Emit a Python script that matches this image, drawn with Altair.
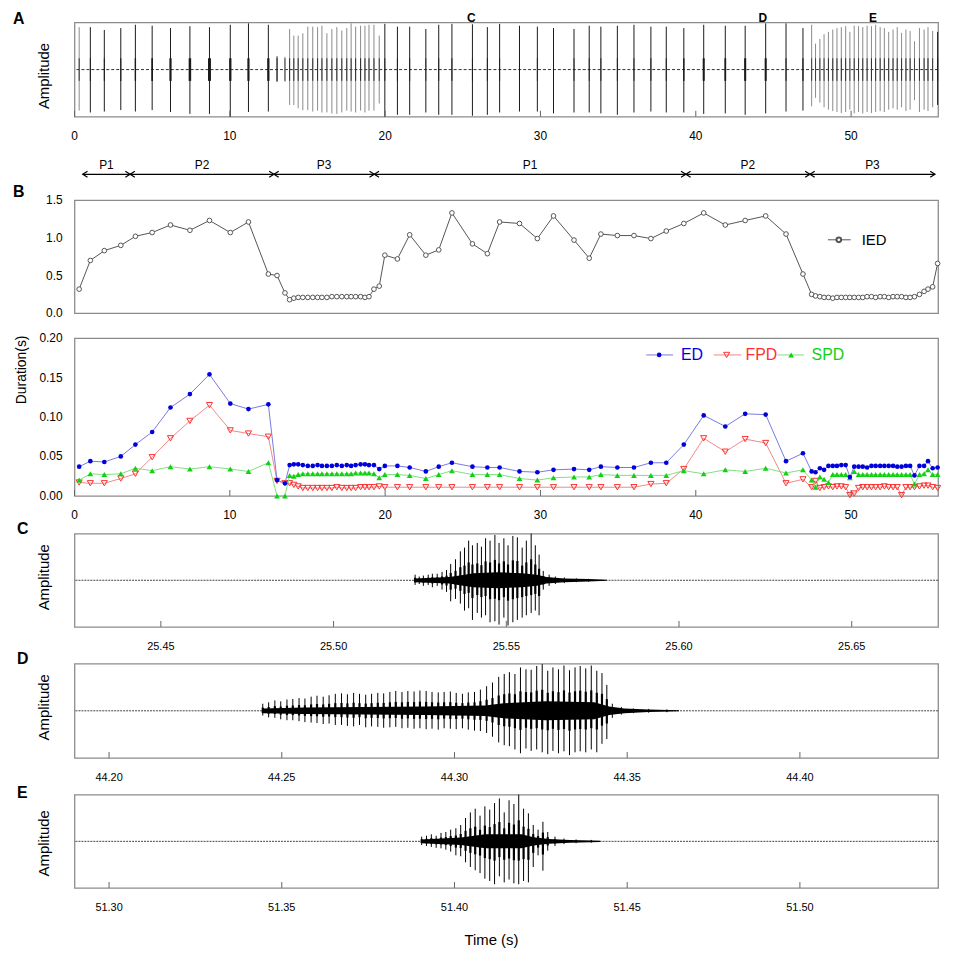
import altair as alt
import pandas as pd

FONT = "Liberation Sans"
W = 870

# ---------------- call-level data (panels A and B) ----------------
T = [0.30, 1.02, 1.92, 2.98, 3.92,
     5.00, 6.18, 7.43, 8.69, 10.03, 11.20, 12.48,
     13.04, 13.55,
     13.85, 14.12, 14.40, 14.70, 15.02, 15.34, 15.65, 15.93, 16.25, 16.57,
     16.89, 17.21, 17.53, 17.81, 18.10, 18.42, 18.70, 18.96, 19.28, 19.62,
     19.98, 20.79, 21.58, 22.62, 23.45, 24.30, 25.62, 26.58, 27.37, 28.65,
     29.80, 30.84, 32.16, 33.14, 33.89, 34.95, 36.02, 37.11, 38.10,
     39.23, 40.51, 41.90, 43.18, 44.50, 45.81, 46.90,
     47.46, 47.71, 47.99, 48.26, 48.54, 48.82, 49.09, 49.37, 49.65, 49.92,
     50.20, 50.48, 50.75, 51.03, 51.31, 51.58, 51.87, 52.14, 52.42, 52.70,
     52.97, 53.25, 53.53, 53.80, 54.08, 54.40, 54.70, 54.95, 55.25, 55.57]

IED = [0.32, 0.70, 0.83, 0.90, 1.02,
       1.07, 1.17, 1.10, 1.23, 1.07, 1.21, 0.52,
       0.50, 0.27,
       0.18, 0.20, 0.21, 0.21, 0.21, 0.21, 0.21, 0.21, 0.21, 0.22,
       0.22, 0.22, 0.22, 0.22, 0.22, 0.22, 0.21, 0.22, 0.32, 0.36,
       0.77, 0.72, 1.04, 0.77, 0.84, 1.33, 0.92, 0.79, 1.21, 1.19,
       0.99, 1.29, 0.97, 0.73, 1.05, 1.03, 1.03, 0.99, 1.09,
       1.19, 1.33, 1.17, 1.23, 1.29, 1.05, 0.52,
       0.25, 0.23, 0.22, 0.21, 0.21, 0.20, 0.21, 0.21, 0.21, 0.21,
       0.21, 0.21, 0.21, 0.22, 0.22, 0.21, 0.22, 0.22, 0.21, 0.22,
       0.22, 0.22, 0.21, 0.21, 0.22, 0.25, 0.29, 0.32, 0.35, 0.66]

ED = [0.037, 0.044, 0.043, 0.050, 0.065,
      0.081, 0.112, 0.129, 0.154, 0.117, 0.110, 0.116,
      0.020, 0.016,
      0.039, 0.040, 0.040, 0.039, 0.038, 0.038, 0.039, 0.038, 0.038, 0.038,
      0.039, 0.038, 0.039, 0.038, 0.039, 0.040, 0.040, 0.039, 0.039, 0.034,
      0.038, 0.038, 0.036, 0.031, 0.037, 0.042, 0.037, 0.036, 0.036, 0.031,
      0.030, 0.033, 0.034, 0.033, 0.037, 0.036, 0.036, 0.042, 0.042,
      0.065, 0.102, 0.088, 0.104, 0.103, 0.044, 0.054,
      0.031, 0.030, 0.035, 0.033, 0.038, 0.038, 0.038, 0.039, 0.039, 0.024,
      0.037, 0.037, 0.037, 0.036, 0.038, 0.038, 0.038, 0.038, 0.038, 0.038,
      0.037, 0.037, 0.038, 0.038, 0.026, 0.038, 0.038, 0.044, 0.035, 0.036]

FPD = [0.017, 0.016, 0.016, 0.022, 0.028,
       0.049, 0.073, 0.095, 0.115, 0.083, 0.079, 0.075,
       0.019, 0.016,
       0.016, 0.014, 0.012, 0.010, 0.010, 0.010, 0.010, 0.010, 0.010, 0.010,
       0.011, 0.010, 0.010, 0.010, 0.010, 0.011, 0.011, 0.011, 0.011, 0.012,
       0.011, 0.011, 0.011, 0.011, 0.011, 0.011, 0.011, 0.011, 0.011, 0.011,
       0.011, 0.011, 0.011, 0.011, 0.011, 0.011, 0.011, 0.015, 0.016,
       0.034, 0.073, 0.056, 0.072, 0.067, 0.016, 0.021,
       0.011, 0.019, 0.010, 0.011, 0.012, 0.011, 0.012, 0.012, 0.011, 0.001,
       0.003, 0.010, 0.011, 0.011, 0.011, 0.011, 0.011, 0.012, 0.011, 0.011,
       0.011, 0.001, 0.011, 0.011, 0.011, 0.012, 0.013, 0.013, 0.011, 0.010]

SPD = [0.020, 0.028, 0.027, 0.028, 0.035,
       0.032, 0.037, 0.034, 0.037, 0.034, 0.031, 0.042,
       0.000, 0.000,
       0.026, 0.025, 0.027, 0.028, 0.028, 0.028, 0.028, 0.028, 0.028, 0.028,
       0.028, 0.028, 0.028, 0.028, 0.029, 0.029, 0.029, 0.029, 0.028, 0.023,
       0.027, 0.027, 0.026, 0.022, 0.027, 0.032, 0.027, 0.027, 0.027, 0.022,
       0.020, 0.023, 0.024, 0.024, 0.027, 0.026, 0.026, 0.026, 0.026,
       0.032, 0.028, 0.033, 0.031, 0.035, 0.029, 0.033,
       0.020, 0.011, 0.024, 0.021, 0.017, 0.027, 0.027, 0.027, 0.027, 0.023,
       0.031, 0.027, 0.027, 0.027, 0.027, 0.027, 0.027, 0.027, 0.027, 0.027,
       0.027, 0.027, 0.027, 0.027, 0.015, 0.027, 0.028, 0.033, 0.027, 0.027]

AMP_UP = [0.90, 0.90, 0.84, 0.88, 0.95,
          0.93, 0.88, 0.92, 0.90, 0.95, 0.98, 0.95,
          0.28, 0.27,
          0.86, 0.72, 0.72, 0.77, 0.91, 0.91, 0.90, 0.93, 0.77, 0.86,
          0.90, 0.83, 0.88, 0.98, 0.91, 0.93, 0.93, 0.95, 0.95, 0.72,
          0.97, 0.91, 0.91, 0.86, 0.95, 0.97, 0.96, 0.90, 0.97, 0.93,
          0.91, 0.88, 0.86, 0.93, 0.91, 0.93, 0.95, 0.91, 0.91,
          0.88, 0.95, 0.93, 0.93, 0.98, 0.98, 0.88,
          0.95, 0.55, 0.65, 0.75, 0.80, 0.85, 0.88, 0.90, 0.92, 0.80,
          0.93, 0.92, 0.90, 0.93, 0.92, 0.95, 0.90, 0.88, 0.80, 0.85,
          0.90, 0.78, 0.85, 0.82, 0.60, 0.88, 0.85, 0.90, 0.82, 0.80]

AMP_DN = [0.87, 0.91, 0.89, 0.86, 0.89,
          0.86, 0.90, 0.94, 0.94, 1.00, 0.90, 0.89,
          0.26, 0.26,
          0.75, 0.75, 0.82, 0.86, 0.86, 0.89, 0.87, 0.91, 0.91, 0.93,
          0.94, 0.91, 0.87, 0.89, 0.91, 0.87, 0.91, 0.87, 0.87, 0.72,
          1.00, 0.96, 0.96, 0.91, 0.96, 0.96, 0.98, 0.96, 0.91, 0.89,
          0.89, 0.93, 0.91, 0.91, 0.93, 0.96, 0.91, 0.89, 0.91,
          0.91, 0.94, 0.93, 0.96, 0.93, 0.89, 0.87,
          0.78, 0.60, 0.70, 0.80, 0.85, 0.88, 0.90, 0.92, 0.90, 0.85,
          0.93, 0.90, 0.93, 0.90, 0.92, 0.90, 0.88, 0.90, 0.85, 0.82,
          0.85, 0.80, 0.88, 0.85, 0.65, 0.90, 0.85, 0.88, 0.80, 0.75]

X_MAIN = [0, 55.6]
MAIN_TICKS = [0, 10, 20, 30, 40, 50]
IED_TICKS = [0.0, 0.5, 1.0, 1.5]
DUR_TICKS = [0.0, 0.05, 0.10, 0.15, 0.20]

PH_START = [0.53, 3.58, 12.84, 19.30, 39.36, 47.35]
PH_END = [3.58, 12.84, 19.30, 39.36, 47.35, 55.40]
PH_NAME = ["P1", "P2", "P3", "P1", "P2", "P3"]

# ---------------- zoomed oscillograms ----------------
C_DOMAIN = [25.425, 25.675]
C_TICKS = [25.45, 25.50, 25.55, 25.60, 25.65]
C_T = [25.5236, 25.5248, 25.5260, 25.5274, 25.5286, 25.5300, 25.5314, 25.5327,
       25.5339, 25.5353, 25.5367, 25.5379, 25.5391, 25.5402, 25.5416, 25.5428,
       25.5440, 25.5453, 25.5467, 25.5479, 25.5493, 25.5505, 25.5519, 25.5532,
       25.5546, 25.5558, 25.5572, 25.5584, 25.5595, 25.5607, 25.5624, 25.5642,
       25.5668, 25.5703, 25.5738]
C_UP = [0.12, 0.08, 0.10, 0.12, 0.14, 0.14, 0.18, 0.22, 0.35, 0.45, 0.62, 0.70,
        0.85, 0.75, 0.80, 0.72, 0.90, 0.85, 0.97, 0.80, 0.90, 0.75, 0.95, 0.92,
        0.70, 0.85, 1.00, 0.75, 0.55, 0.20, 0.12, 0.08, 0.06, 0.04, 0.03]
C_DN = [0.10, 0.08, 0.12, 0.10, 0.15, 0.12, 0.20, 0.25, 0.45, 0.40, 0.50, 0.65,
        0.60, 0.85, 0.70, 0.80, 0.75, 0.90, 0.88, 0.95, 0.80, 0.97, 0.90, 0.85,
        0.80, 0.75, 0.70, 0.65, 0.75, 0.20, 0.12, 0.08, 0.06, 0.04, 0.03]
C_ENV_T = [25.5236, 25.5335, 25.5370, 25.5405, 25.5475, 25.5546, 25.5589,
           25.5616, 25.5668, 25.5738, 25.5791]
C_ENV = [0.04, 0.07, 0.11, 0.15, 0.17, 0.15, 0.12, 0.07, 0.04, 0.025, 0.012]

D_DOMAIN = [44.19, 44.44]
D_TICKS = [44.20, 44.25, 44.30, 44.35, 44.40]
D_T = [44.2445, 44.2462, 44.2480, 44.2497, 44.2515, 44.2532, 44.2550, 44.2567,
       44.2585, 44.2602, 44.2620, 44.2637, 44.2655, 44.2673, 44.2690, 44.2708,
       44.2725, 44.2743, 44.2760, 44.2778, 44.2795, 44.2813, 44.2830, 44.2848,
       44.2865, 44.2883, 44.2900, 44.2918, 44.2935, 44.2953, 44.2970, 44.2988,
       44.3005, 44.3023, 44.3040, 44.3058, 44.3075, 44.3093, 44.3110,
       44.3128, 44.3144, 44.3159, 44.3175, 44.3191, 44.3207, 44.3222, 44.3238,
       44.3254, 44.3270, 44.3285, 44.3301, 44.3317, 44.3333, 44.3349, 44.3364,
       44.3380, 44.3396, 44.3412, 44.3427, 44.3441,
       44.3457, 44.3483, 44.3518, 44.3562, 44.3615]
D_UP = [0.15, 0.18, 0.22, 0.20, 0.24, 0.25, 0.27, 0.26, 0.30, 0.32, 0.30, 0.33,
        0.36, 0.37, 0.35, 0.38, 0.36, 0.34, 0.36, 0.38, 0.37, 0.40, 0.42, 0.40,
        0.42, 0.41, 0.43, 0.42, 0.40, 0.39, 0.40, 0.41, 0.38, 0.36, 0.39, 0.40,
        0.45, 0.52, 0.60,
        0.72, 0.78, 0.82, 0.78, 0.92, 0.88, 0.87, 0.95, 0.99, 0.85, 0.92, 0.88,
        0.96, 0.86, 0.92, 0.95, 0.90, 0.96, 0.85, 0.80, 0.55,
        0.15, 0.08, 0.05, 0.04, 0.03]
D_DN = [0.10, 0.14, 0.15, 0.18, 0.20, 0.20, 0.22, 0.24, 0.25, 0.26, 0.28, 0.27,
        0.30, 0.30, 0.32, 0.33, 0.30, 0.35, 0.33, 0.34, 0.36, 0.35, 0.34, 0.37,
        0.36, 0.38, 0.37, 0.39, 0.38, 0.40, 0.37, 0.38, 0.39, 0.37, 0.40, 0.42,
        0.43, 0.47, 0.55,
        0.67, 0.73, 0.75, 0.82, 0.90, 0.80, 0.85, 0.82, 0.88, 0.92, 0.85, 0.90,
        0.86, 0.94, 0.88, 0.86, 0.88, 0.82, 0.88, 0.70, 0.60,
        0.15, 0.08, 0.05, 0.04, 0.03]
D_ENV_T = [44.2445, 44.2564, 44.2739, 44.2914, 44.3089, 44.3142, 44.3264,
           44.3405, 44.3448, 44.3492, 44.3562, 44.3650]
D_ENV = [0.05, 0.07, 0.08, 0.09, 0.11, 0.16, 0.20, 0.18, 0.09, 0.05, 0.025, 0.012]

E_DOMAIN = [51.29, 51.54]
E_TICKS = [51.30, 51.35, 51.40, 51.45, 51.50]
E_T = [51.3905, 51.3919, 51.3933, 51.3947, 51.3961, 51.3975, 51.3989, 51.4004,
       51.4018, 51.4032, 51.4046, 51.4060, 51.4074, 51.4088, 51.4102, 51.4116,
       51.4130, 51.4144, 51.4158, 51.4172, 51.4186, 51.4200, 51.4214, 51.4228,
       51.4242, 51.4256, 51.4270, 51.4291, 51.4317, 51.4352, 51.4396]
E_UP = [0.10, 0.12, 0.15, 0.12, 0.18, 0.20, 0.25, 0.28, 0.35, 0.50, 0.62, 0.70,
        0.55, 0.75, 0.68, 0.82, 0.92, 0.62, 0.88, 0.80, 1.00, 0.70, 0.60, 0.35,
        0.25, 0.42, 0.20, 0.10, 0.06, 0.04, 0.03]
E_DN = [0.08, 0.10, 0.12, 0.14, 0.15, 0.18, 0.22, 0.30, 0.32, 0.45, 0.55, 0.62,
        0.68, 0.80, 0.85, 0.92, 0.75, 0.88, 0.82, 0.90, 0.92, 0.85, 0.88, 0.55,
        0.30, 0.63, 0.20, 0.10, 0.06, 0.04, 0.03]
E_ENV_T = [51.3905, 51.4019, 51.4089, 51.4194, 51.4229, 51.4273, 51.4335, 51.4422]
E_ENV = [0.04, 0.08, 0.15, 0.15, 0.09, 0.05, 0.03, 0.012]

# ---------------- helpers ----------------
NOFRAME = alt.ViewBackground(strokeOpacity=0)
xs_main = alt.Scale(domain=X_MAIN, nice=False, zero=False)
ys_wave = alt.Scale(domain=[-1, 1], nice=False, zero=False)


def one(s):
    return pd.DataFrame({"s": [s]})


def letter(s, x, y):
    return alt.Chart(one(s)).mark_text(
        font=FONT, fontSize=16, fontWeight="bold", align="left", baseline="middle",
        color="#000").encode(x=alt.value(x), y=alt.value(y), text="s:N")


def vtitle(s, x, y, size=15):
    return alt.Chart(one(s)).mark_text(
        font=FONT, fontSize=size, angle=270, align="center", baseline="middle",
        color="#000").encode(x=alt.value(x), y=alt.value(y), text="s:N")


def x_labels(values, scale, h, fmt, size=12, dy=19.5):
    return alt.Chart(pd.DataFrame({"v": values})).mark_text(
        font=FONT, fontSize=size, baseline="middle", align="center", color="#000").encode(
        x=alt.X("v:Q", scale=scale, axis=None), y=alt.value(h + dy),
        text=alt.Text("v:Q", format=fmt))


def y_labels(values, scale, fmt, size=12):
    return alt.Chart(pd.DataFrame({"v": values})).mark_text(
        font=FONT, fontSize=size, baseline="middle", align="right", color="#000").encode(
        x=alt.value(-12), y=alt.Y("v:Q", scale=scale, axis=None),
        text=alt.Text("v:Q", format=fmt))


def inward_ticks(values, scale, h):
    return alt.Chart(pd.DataFrame({"v": values})).mark_rule(
        color="#666", strokeWidth=1).encode(
        x=alt.X("v:Q", scale=scale, axis=None), y=alt.value(h), y2=alt.value(h - 6))


def blank(h):
    return alt.Chart(one("")).mark_point(opacity=0, size=1).encode(
        x=alt.value(0), y=alt.value(0)).properties(width=W, height=h, view=NOFRAME)


calls = pd.DataFrame({"t": T, "up": AMP_UP, "dn": [-a for a in AMP_DN],
                      "ied": IED, "ed": ED, "fpd": FPD, "spd": SPD})
call_color = alt.when(alt.datum.ied < 0.4).then(alt.value("#8a8a8a")).otherwise(alt.value("#1a1a1a"))

# ---------------- panel A ----------------
HA = 95
a_base = alt.Chart(one(0)).mark_rule(
    color="#333", strokeWidth=1, strokeDash=[3, 2]).encode(
    y=alt.datum(0, scale=ys_wave, axis=None))
a_calls = alt.Chart(calls).mark_rule(strokeWidth=1).encode(
    x=alt.X("t:Q", scale=xs_main, axis=None),
    y=alt.Y("dn:Q", scale=ys_wave, axis=None), y2="up:Q", color=call_color)
a_core = alt.Chart(calls).transform_calculate(lo="-0.24", hi="0.24").mark_rule(color="#1a1a1a").encode(
    x=alt.X("t:Q", scale=xs_main, axis=None),
    y=alt.Y("lo:Q", scale=ys_wave, axis=None), y2="hi:Q",
    strokeWidth=alt.StrokeWidth("ed:Q", scale=alt.Scale(domain=[0.03, 0.155], range=[0.7, 3.0], clamp=True), legend=None))
snip = pd.DataFrame({"lab": ["C", "D", "E"],
                     "mid": [sum(C_DOMAIN) / 2, sum(D_DOMAIN) / 2, sum(E_DOMAIN) / 2]})
a_snip = alt.Chart(snip).mark_text(font=FONT, fontSize=12, fontWeight="bold", baseline="middle").encode(
    x=alt.X("mid:Q", scale=xs_main, axis=None), y=alt.value(-4.5), text="lab:N")
panelA = alt.layer(a_base, a_calls, a_core, inward_ticks(MAIN_TICKS, xs_main, HA),
                   x_labels(MAIN_TICKS, xs_main, HA, "d"), vtitle("Amplitude", -31, 54),
                   a_snip, letter("A", -62, -3)).properties(width=W, height=HA)

# ---------------- phase arrows ----------------
ph = pd.DataFrame({"s": PH_START, "e": PH_END, "name": PH_NAME})
ph["m"] = (ph["s"] + ph["e"]) / 2
AY = 58
arr_line = alt.Chart(ph).mark_rule(color="#000", strokeWidth=1.2).encode(
    x=alt.X("s:Q", scale=xs_main, axis=None), x2="e:Q", y=alt.value(AY))
arr_l = alt.Chart(ph).mark_point(shape="M 1.6 -1 L 0 0 L 1.6 1", filled=False, color="#000",
                                 strokeWidth=1.2, size=36, opacity=1).encode(
    x=alt.X("s:Q", scale=xs_main, axis=None), y=alt.value(AY))
arr_r = alt.Chart(ph).mark_point(shape="M -1.6 -1 L 0 0 L -1.6 1", filled=False, color="#000",
                                 strokeWidth=1.2, size=36, opacity=1).encode(
    x=alt.X("e:Q", scale=xs_main, axis=None), y=alt.value(AY))
arr_t = alt.Chart(ph).mark_text(font=FONT, fontSize=12, baseline="middle", color="#000").encode(
    x=alt.X("m:Q", scale=xs_main, axis=None), y=alt.value(AY - 9), text="name:N")
arrows = alt.layer(arr_line, arr_l, arr_r, arr_t).properties(width=W, height=84, view=NOFRAME)

# ---------------- panel B (IED) ----------------
HB1 = 114
ys_ied = alt.Scale(domain=[0, 1.5], nice=False)
b1_line = alt.Chart(calls).mark_line(color="#555", strokeWidth=1).encode(
    x=alt.X("t:Q", scale=xs_main, axis=None), y=alt.Y("ied:Q", scale=ys_ied, axis=None))
b1_pts = alt.Chart(calls).mark_point(shape="circle", filled=True, fill="white", stroke="#555",
                                     strokeWidth=1, size=22, opacity=1).encode(
    x=alt.X("t:Q", scale=xs_main, axis=None), y=alt.Y("ied:Q", scale=ys_ied, axis=None))
b1_leg_line = alt.Chart(one("IED")).mark_rule(color="#555", strokeWidth=1).encode(
    x=alt.value(759), x2=alt.value(782), y=alt.value(40))
b1_leg_pt = alt.Chart(one("IED")).mark_point(shape="circle", filled=True, fill="white", stroke="#555",
                                             size=22, opacity=1).encode(x=alt.value(770), y=alt.value(40))
b1_leg_txt = alt.Chart(one("IED")).mark_text(font=FONT, fontSize=15, align="left", baseline="middle",
                                             color="#000").encode(x=alt.value(793), y=alt.value(40), text="s:N")
panelB1 = alt.layer(b1_line, b1_pts, y_labels(IED_TICKS, ys_ied, ".1f"),
                    b1_leg_line, b1_leg_pt, b1_leg_txt,
                    letter("B", -62, -8.5)).properties(width=W, height=HB1)

# ---------------- panel B (durations) ----------------
HB2 = 159
ys_dur = alt.Scale(domain=[0, 0.2], nice=False)
SERIES = [
    # field, label, line colour, point colour, shape, filled, legend x positions
    ("fpd", "FPD", "#f08888", "#ff3030", "triangle-down", False, 644, 672, 657, 692),
    ("spd", "SPD", "#7fe07f", "#12d012", "triangle-up", True, 708, 735, 722, 759),
    ("ed", "ED", "#7a7ae0", "#0000dd", "circle", True, 576, 603, 589, 622),
]
b2_layers = []
for fld, lab, lc, pc, shp, filled, lx1, lx2, px, tx in SERIES:
    b2_layers.append(alt.Chart(calls).mark_line(color=lc, strokeWidth=1).encode(
        x=alt.X("t:Q", scale=xs_main, axis=None), y=alt.Y(f"{fld}:Q", scale=ys_dur, axis=None)))
    size = 22 if shp == "circle" else (34 if filled else 38)
    if filled:
        pm = dict(filled=True, color=pc)
    else:
        pm = dict(filled=False, color=pc, strokeWidth=1)
    b2_layers.append(alt.Chart(calls).mark_point(shape=shp, size=size, opacity=1, **pm).encode(
        x=alt.X("t:Q", scale=xs_main, axis=None), y=alt.Y(f"{fld}:Q", scale=ys_dur, axis=None)))
    b2_layers.append(alt.Chart(one(lab)).mark_rule(color=lc, strokeWidth=1).encode(
        x=alt.value(lx1), x2=alt.value(lx2), y=alt.value(17)))
    b2_layers.append(alt.Chart(one(lab)).mark_point(shape=shp, size=size, opacity=1, **pm).encode(
        x=alt.value(px), y=alt.value(17)))
    b2_layers.append(alt.Chart(one(lab)).mark_text(font=FONT, fontSize=16, baseline="middle",
                                                   color=pc).encode(x=alt.value(tx), y=alt.value(17), text="s:N"))
b2_layers += [inward_ticks(MAIN_TICKS, xs_main, HB2), x_labels(MAIN_TICKS, xs_main, HB2, "d"),
              y_labels(DUR_TICKS, ys_dur, ".2f"), vtitle("Duration(s)", -53, 32, 14)]
panelB2 = alt.layer(*b2_layers).properties(width=W, height=HB2)


# ---------------- panels C, D, E ----------------
def wave_panel(lab, t, up, dn, env_t, env, domain, ticks, h, letter_y, title_y, xtitle=None):
    xs = alt.Scale(domain=domain, nice=False, zero=False)
    df = pd.DataFrame({"t": t, "up": up, "dn": [-v for v in dn]})
    de = pd.DataFrame({"t": env_t, "hi": env, "lo": [-v for v in env]})
    base = alt.Chart(one(0)).mark_rule(
        color="#444", strokeWidth=1, strokeDash=[2, 1]).encode(
        y=alt.datum(0, scale=ys_wave, axis=None))
    envl = alt.Chart(de).mark_area(color="#000", opacity=1).encode(
        x=alt.X("t:Q", scale=xs, axis=None), y=alt.Y("lo:Q", scale=ys_wave, axis=None), y2="hi:Q")
    spikes = alt.Chart(df).mark_rule(color="#000", strokeWidth=1.0).encode(
        x=alt.X("t:Q", scale=xs, axis=None), y=alt.Y("dn:Q", scale=ys_wave, axis=None), y2="up:Q")
    fat = alt.Chart(df).transform_calculate(iu="datum.up * 0.45", idn="datum.dn * 0.45").mark_rule(
        color="#000", strokeWidth=2.2).encode(
        x=alt.X("t:Q", scale=xs, axis=None), y=alt.Y("idn:Q", scale=ys_wave, axis=None), y2="iu:Q")
    layers = [base, envl, spikes, fat, inward_ticks(ticks, xs, h),
              x_labels(ticks, xs, h, ".2f", size=11, dy=20),
              vtitle("Amplitude", -31, title_y), letter(lab, -58, letter_y)]
    if xtitle:
        layers.append(alt.Chart(one(xtitle)).mark_text(
            font=FONT, fontSize=15, baseline="middle", align="center", color="#000").encode(
            x=alt.value(W / 2 - 15), y=alt.value(h + 52), text="s:N"))
    return alt.layer(*layers).properties(width=W, height=h)


panelC = wave_panel("C", C_T, C_UP, C_DN, C_ENV_T, C_ENV, C_DOMAIN, C_TICKS, 94, -5, 44)
panelD = wave_panel("D", D_T, D_UP, D_DN, D_ENV_T, D_ENV, D_DOMAIN, D_TICKS, 95, -5, 44)
panelE = wave_panel("E", E_T, E_UP, E_DN, E_ENV_T, E_ENV, E_DOMAIN, E_TICKS, 94, -2, 49,
                    xtitle="Time (s)")

chart = alt.vconcat(
    panelA, arrows, panelB1, blank(25), panelB2, blank(38), panelC, blank(37),
    panelD, blank(37), panelE,
    spacing=0, bounds="flush",
    padding={"left": 4, "top": -1, "right": 5, "bottom": 5},
).configure(font=FONT, background="white").configure_view(
    stroke="#8c8c8c", strokeWidth=1.3
)

chart.save("out.html", embed_options={"renderer": "svg", "actions": False})
